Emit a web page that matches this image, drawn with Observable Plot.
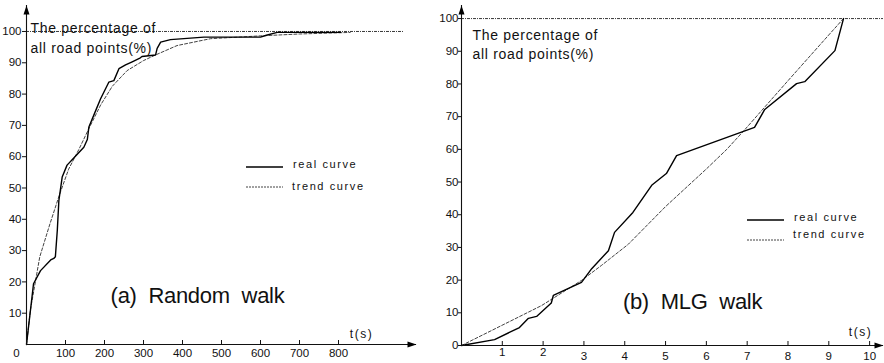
<!DOCTYPE html>
<html><head><meta charset="utf-8">
<script src="https://cdn.jsdelivr.net/npm/d3@7"></script>
<script src="https://cdn.jsdelivr.net/npm/@observablehq/plot@0.6"></script>
<style>
html,body{margin:0;padding:0;background:#fff;}
#wrap{position:relative;width:884px;height:363px;overflow:hidden;font-family:"Liberation Sans",Arial,sans-serif;}
.panel{position:absolute;top:0;}
#legend{position:absolute;left:0;top:0;pointer-events:none;}
</style></head>
<body><div id="wrap"></div>
<script>
// ---- data ----
// (a) Random walk
const aRealT  = [0, 18, 36, 62, 70, 74, 79, 83, 91.5, 104, 117, 147, 156, 160, 175, 190, 211, 224, 237, 254, 271, 292, 296, 331, 335, 344, 369, 455, 600, 615, 643, 700, 805];
const aRealV  = [0, 19.4, 23.6, 27, 27.5, 28, 36.5, 46, 53.5, 57.3, 59, 63, 65.5, 69.5, 74, 78.5, 83.8, 84.3, 88.1, 89.3, 90.3, 91.6, 92, 92.5, 94.6, 96.6, 97.4, 98.2, 98.2, 98.8, 99.7, 99.7, 99.7];
const aTrendT = [0, 10, 34, 60, 85, 108, 135, 160, 190, 220, 258, 300, 331, 386, 472, 600, 700, 830];
const aTrendV = [0, 11, 28, 38.5, 48, 56, 62.5, 69, 76.5, 82.5, 87.5, 90.7, 92.5, 95.5, 97.7, 98.6, 99.2, 99.7];
// (b) MLG walk
const bRealT  = [0, 0.81, 1.42, 1.64, 1.84, 2.2, 2.25, 2.94, 3.19, 3.6, 3.75, 4.2, 4.66, 5.02, 5.27, 7.18, 7.43, 8.21, 8.41, 9.15, 9.36];
const bRealV  = [0, 1.8, 5.5, 8.3, 8.9, 13, 15.3, 19.3, 23.5, 29, 34.6, 40.7, 49, 52.6, 58.1, 66.7, 72.2, 80.1, 80.7, 90.2, 100];
const bTrendT = [0, 0.74, 1.96, 2.94, 3.43, 4.09, 5, 6, 6.5, 6.94, 8, 9, 9.36];
const bTrendV = [0, 4.6, 12.2, 19.9, 24.5, 31, 42.5, 54, 60, 66, 81, 95, 100];
// tick labels
const aXTicks = [100, 200, 300, 400, 500, 600, 700, 800];
const aYTicks = [10, 20, 30, 40, 50, 60, 70, 80, 90, 100];
const bXTicksHigh = [1, 2];
const bXTicksLow = [3, 4, 5, 6, 7, 8, 9, 10];
const bYTicks = [0, 10, 20, 30, 40, 50, 60, 70, 80, 90, 100];
const refLevel = 100;
// texts
const yTitle = "The percentage of\nall road points(%)";
const xTitle = "t(s)";
const panelTitles = ["(a) Random walk", "(b) MLG walk"];
const legendLabels = ["real curve", "trend curve"];

const arrowHead = {draw(ctx) { ctx.moveTo(0, 0); ctx.lineTo(3, 9); ctx.lineTo(-3, 9); ctx.closePath(); }};

function makePanel(cfg) {
  const real = cfg.realT.map((t, i) => ({t, v: cfg.realV[i]}));
  const trend = cfg.trendT.map((t, i) => ({t, v: cfg.trendV[i]}));
  const marks = [
    Plot.ruleY([refLevel], {x1: 0, x2: cfg.refEnd, stroke: "#222", strokeWidth: 0.9, strokeDasharray: "3,1,1,1"}),
    Plot.line(trend, {x: "t", y: "v", stroke: "#111", strokeWidth: 0.8, strokeDasharray: "3,2"}),
    Plot.line(real, {x: "t", y: "v", stroke: "#000", strokeWidth: 1.4}),
    Plot.ruleX([0], {y1: 0, y2: cfg.yMax, stroke: "#111", strokeWidth: 1.1}),
    Plot.ruleY([0], {x1: 0, x2: cfg.xMax, stroke: "#111", strokeWidth: 1.1}),
    Plot.dot([{x: 0, y: cfg.yMax}], {x: "x", y: "y", symbol: arrowHead, fill: "#000", stroke: null}),
    Plot.dot([{x: cfg.xMax, y: 0}], {x: "x", y: "y", symbol: arrowHead, rotate: 90, fill: "#000", stroke: null}),
    Plot.axisY(cfg.yTicks, {tickSize: cfg.yTickSize, tickPadding: cfg.yTickPad, stroke: "#111"}),
    Plot.text([yTitle], {text: d => d, frameAnchor: "top-left", textAnchor: "start", lineAnchor: "top", dx: cfg.titleDx, dy: cfg.titleDy, fontSize: 14, lineHeight: cfg.titleLH}),
    Plot.text([xTitle], {text: d => d, frameAnchor: "top-left", textAnchor: "middle", lineAnchor: "middle", dx: cfg.tDx, dy: cfg.tDy, fontSize: 12}),
    Plot.text([cfg.label], {text: d => d, frameAnchor: "top-left", textAnchor: "middle", lineAnchor: "middle", dx: cfg.labelDx, dy: cfg.labelDy, fontSize: 22})
  ];
  return Plot.plot({
    width: cfg.width, height: 363,
    marginLeft: cfg.mL, marginRight: cfg.mR, marginTop: cfg.mT, marginBottom: cfg.mB,
    x: {domain: [0, cfg.xMax]},
    y: {domain: [0, cfg.yMax]},
    style: {fontFamily: "'Liberation Sans', Arial, sans-serif", fontSize: "11.5px", color: "#111", background: "transparent", overflow: "visible"},
    marks: marks.concat(cfg.extra)
  });
}

const left = makePanel({
  width: 440, mL: 26, mR: 24, mT: 5, mB: 19, xMax: 1000, yMax: 108.3, refEnd: 967,
  realT: aRealT, realV: aRealV, trendT: aTrendT, trendV: aTrendV,
  yTicks: aYTicks, yTickSize: 4, yTickPad: 1,
  titleDx: 4, titleDy: 13, titleLH: 1.43,
  tDx: 335, tDy: 329, label: panelTitles[0], labelDx: 171, labelDy: 290,
  extra: [
    Plot.axisX(aXTicks, {tickSize: 4, dy: -4, tickFormat: () => "", stroke: "#111"}),
    Plot.axisX(aXTicks, {tickSize: 0, tickPadding: 4}),
    Plot.axisX([0], {tickSize: 0, tickPadding: 4, dx: -10})
  ]
});
const right = makePanel({
  width: 444, mL: 21, mR: 1, mT: 5, mB: 18, xMax: 10.34, yMax: 104, refEnd: 10.34,
  realT: bRealT, realV: bRealV, trendT: bTrendT, trendV: bTrendV,
  yTicks: bYTicks, yTickSize: 3, yTickPad: 0,
  titleDx: 11, titleDy: 21, titleLH: 1.36,
  tDx: 399, tDy: 327, label: panelTitles[1], labelDx: 231, labelDy: 296,
  extra: [
    Plot.axisX(bXTicksHigh.concat(bXTicksLow), {tickSize: 4, dy: -4, tickFormat: () => "", stroke: "#111"}),
    Plot.axisX(bXTicksHigh, {tickSize: 0, tickPadding: 2, fontSize: 11.5}),
    Plot.axisX(bXTicksLow, {tickSize: 0, tickPadding: 6.5, fontSize: 11.5})
  ]
});

const wrap = document.getElementById("wrap");
[[left, 0], [right, 440]].forEach(([svg, x]) => {
  svg.classList.add("panel");
  svg.style.left = x + "px";
  wrap.appendChild(svg);
  d3.select(svg).selectAll("text").each(function () {
    const s = this.textContent;
    if (s.includes("percentage")) this.style.letterSpacing = "0.7px";
    else if (s === xTitle) this.style.letterSpacing = "1.5px";
    else if (panelTitles.includes(s)) { this.style.wordSpacing = "6px"; this.style.letterSpacing = "-0.3px"; }
  });
});

// legends (keys drawn as small SVG lines beside their labels)
const legendSpots = [{x: 246, y: 167, ty: 168, dy2: 20, ty2: 22}, {x: 747, y: 220, ty: 221, dy2: 20, ty2: 17}];
const lg = d3.select(wrap).append("svg").attr("id", "legend").attr("width", 884).attr("height", 363);
legendSpots.forEach(p => {
  const g = lg.append("g").attr("font-family", "'Liberation Sans', Arial, sans-serif").attr("font-size", 11).attr("fill", "#111");
  g.append("line").attr("x1", p.x).attr("x2", p.x + 37).attr("y1", p.y).attr("y2", p.y).attr("stroke", "#000").attr("stroke-width", 1.4);
  g.append("line").attr("x1", p.x).attr("x2", p.x + 37).attr("y1", p.y + p.dy2).attr("y2", p.y + p.dy2).attr("stroke", "#111").attr("stroke-width", 0.8).attr("stroke-dasharray", "2,1");
  g.append("text").attr("x", p.x + 47).attr("y", p.ty).style("letter-spacing", "1.6px").text(legendLabels[0]);
  g.append("text").attr("x", p.x + 46).attr("y", p.ty + p.ty2).style("letter-spacing", "1.6px").text(legendLabels[1]);
});
</script>
</body></html>
